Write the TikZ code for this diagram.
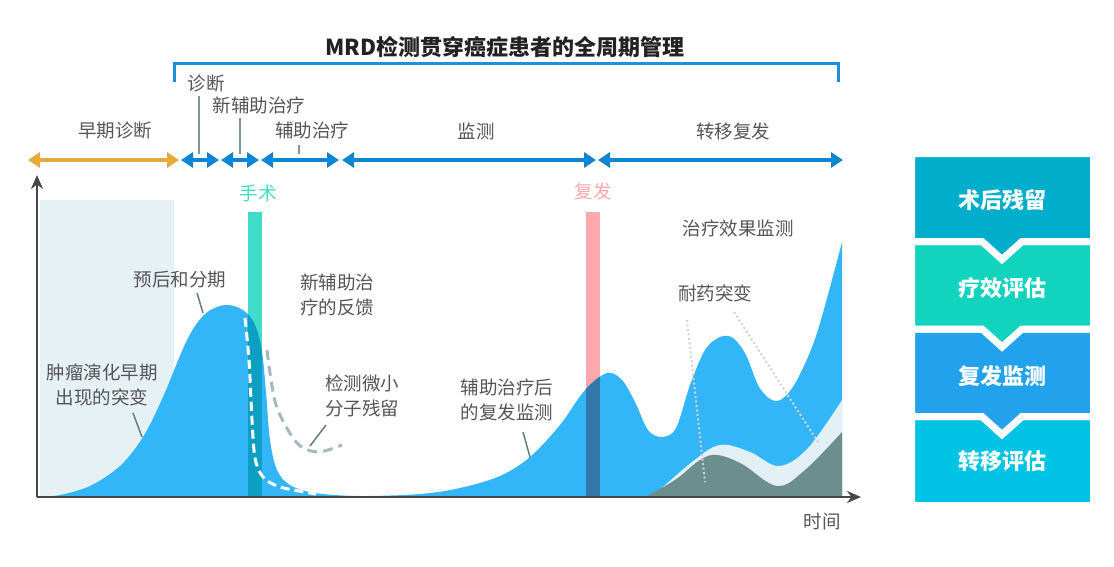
\documentclass[tikz,border=0pt]{standalone}
\usepackage{fontspec}
\setmainfont{Noto Sans CJK SC}
\usepackage{xcolor}
\usepackage{tikz}
\usetikzlibrary{arrows.meta}

\definecolor{labelgray}{HTML}{555555}
\definecolor{titlegray}{HTML}{222222}
\definecolor{brblue}{HTML}{1E90DA}
\definecolor{lineblue}{HTML}{0B87D2}
\definecolor{earlyorange}{HTML}{E8AA3A}
\definecolor{tumorblue}{HTML}{33B6F8}
\definecolor{shadeblue}{HTML}{E6F1F6}
\definecolor{surgteal}{HTML}{3FDDC9}
\definecolor{surgdark}{HTML}{0D9EC4}
\definecolor{relpink}{HTML}{FFA8AE}
\definecolor{reldark}{HTML}{3378A9}
\definecolor{bandlight}{HTML}{E2EFF4}
\definecolor{resistgray}{HTML}{6C8E8E}
\definecolor{residgray}{HTML}{A3BAC2}
\definecolor{pointgray}{HTML}{5E7E80}
\definecolor{axisgray}{HTML}{464646}
\definecolor{boxA}{HTML}{00AECB}
\definecolor{boxB}{HTML}{12D3BE}
\definecolor{boxC}{HTML}{22A2EC}
\definecolor{boxD}{HTML}{00C3E5}

\newcommand\tumorarea{plot[smooth, tension=0.55] coordinates {(40,497) (60,495) (90,486) (120,466) (143,437) (163,397) (187,340) (205,314) (225,305) (243,310) (255,325) (262,352) (266,392) (270,440) (277,470) (290,485) (315,493) (360,496) (420,494) (460,488) (500,476) (530,457) (560,425) (585,390) (607,373) (622,380) (635,402) (648,430) (662,437) (676,428) (690,385) (705,350) (720,337) (733,338) (746,355) (758,385) (770,399) (782,399) (797,380) (817,333) (842,242)} -- (842,497) -- cycle}

\begin{document}
\begin{tikzpicture}[x=1pt, y=-1pt, every node/.style={align=center, inner sep=0pt, text=labelgray, font=\fontsize{18.5}{25}\selectfont}]
        \useasboundingbox (0,0) rectangle (1114,566);
        \tikzset{
            bracket/.style={brblue, line width=3pt},
            span/.style={lineblue, line width=4pt, {Triangle[length=12pt,width=15pt]}-{Triangle[length=12pt,width=15pt]}},
            tick/.style={pointgray!80, line width=1.8pt},
            pointer/.style={pointgray, line width=1.5pt},
            dotline/.style={gray!35, line width=2pt, dash pattern=on 2pt off 2.5pt},
            axis/.style={axisgray, line width=2.5pt, -{Stealth[length=14pt,width=12pt]}},
            stepbox/.style={draw=white, line width=7pt, line join=miter},
            boxtext/.style={text=white, font=\fontsize{22}{26}\selectfont\bfseries}
        }

        % title and bracket
        \node (title) [text=titlegray, font=\fontsize{22}{26}\selectfont\bfseries] at (505,47) {MRD检测贯穿癌症患者的全周期管理};
        \coordinate (brL) at (174,82);
        \coordinate (brR) at (838,82);
        \draw[bracket] (brL) -- ++(0,-19) -| (brR);

        % timeline
        \coordinate (t0) at (28,160);
        \coordinate (t1) at (179,160);
        \coordinate (t2) at (181,160);
        \coordinate (t3) at (219,160);
        \coordinate (t4) at (221,160);
        \coordinate (t5) at (259,160);
        \coordinate (t6) at (261,160);
        \coordinate (t7) at (339,160);
        \coordinate (t8) at (342,160);
        \coordinate (t9) at (596,160);
        \coordinate (t10) at (598,160);
        \coordinate (t11) at (843,160);
        \draw[span, earlyorange] (t0) -- (t1);
        \draw[span] (t2) -- (t3);
        \draw[span] (t4) -- (t5);
        \draw[span] (t6) -- (t7);
        \draw[span] (t8) -- (t9);
        \draw[span] (t10) -- (t11);

        \node (lblEarly) at (115,130) {早期诊断};
        \node (lblDiag) at (206,83) {诊断};
        \node (lblNeo) at (259,105) {新辅助治疗};
        \node (lblAdj) at (312,130) {辅助治疗};
        \node (lblMon) at (476,131) {监测};
        \node (lblMet) at (733,131) {转移复发};
        \coordinate (dTop) at (199,96);
        \coordinate (dBot) at (199,154);
        \coordinate (nTop) at (240,118);
        \coordinate (nBot) at (240,154);
        \coordinate (aTop) at (299,145);
        \coordinate (aBot) at (299,154);
        \draw[tick] (dTop) -- (dBot);
        \draw[tick] (nTop) -- (nBot);
        \draw[tick] (aTop) -- (aBot);

        % early phase shading
        \fill[shadeblue] (40,200) rectangle (174,497);

        % surgery and relapse bars
        \node (lblSurg) [text=surgteal] at (258,193) {手术};
        \node (lblRel) [text=relpink] at (593,191) {复发};
        \fill[surgteal] (248,212) rectangle (262,497);
        \fill[relpink] (586,212) rectangle (600,497);

        % tumour burden
        \fill[tumorblue] \tumorarea;
        \begin{scope}
            \clip \tumorarea;
            \fill[surgdark] (248,212) rectangle (262,497);
            \fill[reldark] (586,212) rectangle (600,497);
        \end{scope}

        % resistant clones
        \fill[bandlight] plot[smooth, tension=0.6] coordinates {(652,497) (692,462) (720,445) (750,452) (779,466) (808,448) (842,400)} -- (842,497) -- cycle;
        \fill[resistgray] plot[smooth, tension=0.6] coordinates {(645,497) (675,480) (700,460) (717,455) (742,464) (777,486) (805,470) (842,432)} -- (842,497) -- cycle;

        % residual disease
        \draw[white, line width=3pt, dash pattern=on 9pt off 5pt] plot[smooth] coordinates {(245,318) (249,360) (252,420) (255,458) (263,477) (280,487) (316,494)};
        \draw[residgray, line width=3pt, dash pattern=on 10pt off 6pt] plot[smooth] coordinates {(267,350) (276,405) (297,443) (318,452) (342,445)};

        % axes
        \coordinate (orig) at (37,497);
        \coordinate (yEnd) at (37,175);
        \coordinate (xEnd) at (861,497);
        \draw[axis] (orig) -- (yEnd);
        \draw[axis] (orig) -- (xEnd);
        \node (lblTime) at (822,522) {时间};

        % annotations
        \node (lblStage) at (180,280) {预后和分期};
        \node (lblNeoFb) at (337,295) {新辅助治\\疗的反馈};
        \node (lblEarlyMut) at (102,385) {肿瘤演化早期\\出现的突变};
        \node (lblMRD) at (362,396) {检测微小\\分子残留};
        \node (lblAdjMon) at (507,400) {辅助治疗后\\的复发监测};
        \node (lblEffect) at (738,228) {治疗效果监测};
        \node (lblResist) at (715,293) {耐药突变};

        \coordinate (sA) at (197,293);
        \coordinate (sB) at (203,313);
        \coordinate (eA) at (133,413);
        \coordinate (eB) at (142,437);
        \coordinate (mA) at (326,425);
        \coordinate (mB) at (310,446);
        \coordinate (rA) at (523,432);
        \coordinate (rB) at (530,457);
        \draw[pointer] (sA) -- (sB);
        \draw[pointer] (eA) -- (eB);
        \draw[pointer] (mA) -- (mB);
        \draw[pointer] (rA) -- (rB);

        \coordinate (dA) at (687,320);
        \coordinate (dB) at (705,482);
        \coordinate (dC) at (734,312);
        \coordinate (dD) at (818,442);
        \draw[dotline] (dA) -- (dB);
        \draw[dotline] (dC) -- (dD);

        % MRD application steps
        \fill[boxD, stepbox] (911.5,416.5) -- (982,416.5) -- (1002,434.5) -- (1022,416.5) -- (1093.5,416.5) -- (1093.5,505.5) -- (911.5,505.5) -- cycle;
        \fill[boxC, stepbox] (911.5,329) -- (1093.5,329) -- (1093.5,416.5) -- (1022,416.5) -- (1002,434.5) -- (982,416.5) -- (911.5,416.5) -- cycle;
        \fill[boxB, stepbox] (911.5,241.5) -- (1093.5,241.5) -- (1093.5,329) -- (1022,329) -- (1002,347) -- (982,329) -- (911.5,329) -- cycle;
        \fill[boxA, stepbox] (911.5,153.5) -- (1093.5,153.5) -- (1093.5,241.5) -- (1022,241.5) -- (1002,259.5) -- (982,241.5) -- (911.5,241.5) -- cycle;
        \node (stepA) [boxtext] at (1002,200) {术后残留};
        \node (stepB) [boxtext] at (1002,288) {疗效评估};
        \node (stepC) [boxtext] at (1002,376) {复发监测};
        \node (stepD) [boxtext] at (1002,461) {转移评估};
    \end{tikzpicture}
\end{document}
